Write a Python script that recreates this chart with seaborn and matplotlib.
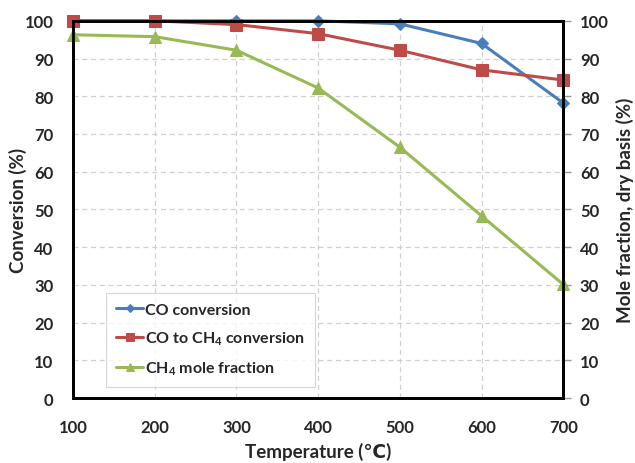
import matplotlib
matplotlib.use("Agg")
import matplotlib.pyplot as plt
import seaborn as sns
import pandas as pd

temperature = [100, 200, 300, 400, 500, 600, 700]
co_conversion = [100, 100, 100, 100, 99.2, 94.0, 78.2]
co_to_ch4 = [100, 100, 99.0, 96.6, 92.2, 87.0, 84.3]
ch4_fraction = [96.3, 95.8, 92.2, 82.2, 66.5, 48.3, 30.1]
series_names = ["CO conversion", "CO to CH$_4$ conversion", "CH$_4$ mole fraction"]
colors = ["#4a7ebb", "#be4b48", "#98b954"]
markers = ["D", "s", "^"]
msizes = [6, 9, 9]

sns.set_theme(style="white")
plt.rcParams['font.family'] = ['Lato', 'DejaVu Sans']
plt.rcParams['font.weight'] = 'bold'
plt.rcParams['mathtext.default'] = 'regular'

df = pd.DataFrame({"T": temperature * 3,
                   "val": co_conversion + co_to_ch4 + ch4_fraction,
                   "series": sum([[n] * len(temperature) for n in series_names], [])})

fig = plt.figure(figsize=(6.35, 4.64), dpi=100)
ax = fig.add_axes([0.115, 0.140, 0.772, 0.813])

for name, c, m, ms in zip(series_names, colors, markers, msizes):
    sub = df[df.series == name]
    sns.lineplot(data=sub, x="T", y="val", ax=ax, color=c, marker=m, markersize=ms,
                 markeredgecolor=c, linewidth=2.2, label=name, clip_on=False, zorder=3)

ax.set_xlim(100, 700)
ax.set_ylim(0, 100)
ax.set_xticks(temperature)
ax.set_yticks(range(0, 101, 10))
ax.grid(True, linestyle=(0, (4, 3)), color="#d0d0d0", linewidth=0.9)
for s in ax.spines.values():
    s.set_color("black")
    s.set_linewidth(2)
ax.tick_params(axis="x", labelsize=12, length=0, pad=15)
ax.tick_params(axis="y", labelsize=12, length=0, pad=14)
ax.set_xlabel("Temperature (℃)", fontsize=13.5, fontweight="bold")
ax.set_ylabel("Conversion (%)", fontsize=13.5, fontweight="bold")
ax.xaxis.set_label_coords(0.5, -0.115)
ax.yaxis.set_label_coords(-0.094, 0.5)
for lab in ax.get_xticklabels() + ax.get_yticklabels():
    lab.set_fontweight("bold")

ax2 = ax.twinx()
ax2.set_ylim(0, 100)
ax2.set_yticks(range(0, 101, 10))
ax2.tick_params(axis="y", labelsize=12, length=6, width=1, color="#999999", pad=6)
for lab in ax2.get_yticklabels():
    lab.set_fontweight("bold")
ax2.set_ylabel("Mole fraction, dry basis (%)", fontsize=13.5, fontweight="bold")
ax2.yaxis.set_label_coords(1.108, 0.5)
for s in ax2.spines.values():
    s.set_color("black")
    s.set_linewidth(2)

leg = ax.legend(loc="lower left", bbox_to_anchor=(0.068, 0.03), borderaxespad=0,
                fontsize=11.5, frameon=True, fancybox=False, edgecolor="#cccccc",
                handlelength=1.7, handletextpad=0.15, borderpad=0.6, labelspacing=0.8,
                markerscale=0.7)
leg.get_frame().set_linewidth(0.8)
for t in leg.get_texts():
    t.set_fontweight("bold")

fig.savefig("out.png", dpi=100)
